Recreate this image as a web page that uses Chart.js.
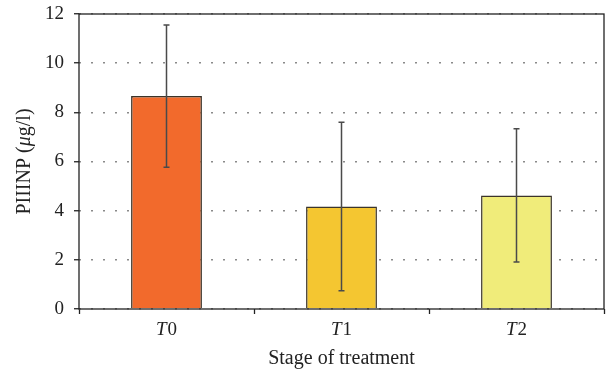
<!DOCTYPE html>
<html>
<head>
<meta charset="utf-8">
<style>
  body { margin: 0; background: #fff; }
  canvas { display: block; }
</style>
<script src="https://cdn.jsdelivr.net/npm/chart.js@4"></script>
</head>
<body>
<canvas id="my-chart" width="606" height="377"></canvas>
<script>
const stages = ['0', '1', '2'];          // shown as italic T + digit
const means = [8.66, 4.17, 4.62];
const errors = [2.89, 3.43, 2.71];
const yTicks = [0, 2, 4, 6, 8, 10, 12];
const colors = ['#F26A2C', '#F4C631', '#F0EC7A'];

const SERIF = '"Liberation Serif", "DejaVu Serif", serif';

// error bars, frame and mixed-style labels
const extras = {
  id: 'extras',
  afterDatasetsDraw(chart) {
    const ctx = chart.ctx;
    const xs = chart.scales.x, ys = chart.scales.y;
    ctx.save();
    ctx.strokeStyle = '#4a4a4a';
    ctx.lineWidth = 1.5;
    means.forEach((m, i) => {
      const x = xs.getPixelForValue(i);
      const yTop = ys.getPixelForValue(m + errors[i]);
      const yBot = ys.getPixelForValue(m - errors[i]);
      ctx.beginPath();
      ctx.moveTo(x, yTop); ctx.lineTo(x, yBot);
      ctx.moveTo(x - 3, yTop); ctx.lineTo(x + 3, yTop);
      ctx.moveTo(x - 3, yBot); ctx.lineTo(x + 3, yBot);
      ctx.stroke();
    });
    const a = chart.chartArea;
    ctx.strokeStyle = '#222';
    ctx.lineWidth = 1.3;
    ctx.strokeRect(a.left, a.top, a.right - a.left, a.bottom - a.top);
    ctx.restore();
  },
  afterDraw(chart) {
    const ctx = chart.ctx;
    const xs = chart.scales.x;
    const a = chart.chartArea;
    ctx.save();
    ctx.fillStyle = '#222';
    ctx.textBaseline = 'middle';
    ctx.textAlign = 'left';
    stages.forEach((s, i) => {
      const cx = xs.getPixelForValue(i);
      ctx.font = 'italic 19px ' + SERIF;
      const wT = ctx.measureText('T').width;
      ctx.font = '19px ' + SERIF;
      const wD = ctx.measureText(s).width;
      const x0 = cx - (wT + wD + 1) / 2;
      ctx.font = 'italic 19px ' + SERIF;
      ctx.fillText('T', x0, 330);
      ctx.font = '19px ' + SERIF;
      ctx.fillText(s, x0 + wT + 1, 330);
    });
    // y title with italic mu
    const parts = [['PIIINP (', ''], ['\u03BC', 'italic '], ['g/l)', '']];
    let total = 0;
    parts.forEach(p => { ctx.font = p[1] + '20px ' + SERIF; total += ctx.measureText(p[0]).width; });
    ctx.translate(25, (a.top + a.bottom) / 2);
    ctx.rotate(-Math.PI / 2);
    let x = -total / 2;
    parts.forEach(p => {
      ctx.font = p[1] + '20px ' + SERIF;
      ctx.fillText(p[0], x, 0);
      x += ctx.measureText(p[0]).width;
    });
    ctx.restore();
  }
};

const config = {
  type: 'bar',
  data: {
    labels: stages.map(s => 'T' + s),
    datasets: [{
      data: means,
      backgroundColor: colors,
      borderColor: '#3b342a',
      borderWidth: 1.5,
      categoryPercentage: 1,
      barPercentage: 0.405
    }]
  },
  options: {
    responsive: false,
    animation: false,
    layout: { padding: { top: 14, right: 2, left: 0, bottom: 6 } },
    plugins: {
      legend: { display: false },
      tooltip: { enabled: false }
    },
    scales: {
      x: {
        offset: true,
        grid: {
          offset: true,
          drawOnChartArea: false,
          drawTicks: true,
          tickLength: 5,
          tickColor: '#222',
          tickWidth: 1.3
        },
        border: { display: false },
        ticks: {
          callback: () => '',
          padding: 0
        },
        title: {
          display: true,
          text: 'Stage of treatment',
          color: '#222',
          font: { family: SERIF, size: 20 },
          padding: { top: 0, bottom: 0 }
        },
        afterFit(scale) { scale.height = 62; }
      },
      y: {
        min: 0,
        max: 12,
        afterBuildTicks(scale) { scale.ticks = yTicks.map(v => ({ value: v })); },
        grid: {
          color: '#8a8a8a',
          lineWidth: 1.5,
          tickLength: 5,
          tickColor: '#222',
          tickWidth: 1.3,
          tickBorderDash: []
        },
        border: { display: false, dash: [2, 10] },
        ticks: {
          color: '#222',
          padding: 10,
          font: { family: SERIF, size: 19 }
        },
        afterFit(scale) {
          scale.width = 79;
          scale.paddingTop = 0;
          scale.paddingBottom = 0;
        }
      }
    }
  },
  plugins: [extras]
};

new Chart(document.getElementById('my-chart'), config);
</script>
</body>
</html>
